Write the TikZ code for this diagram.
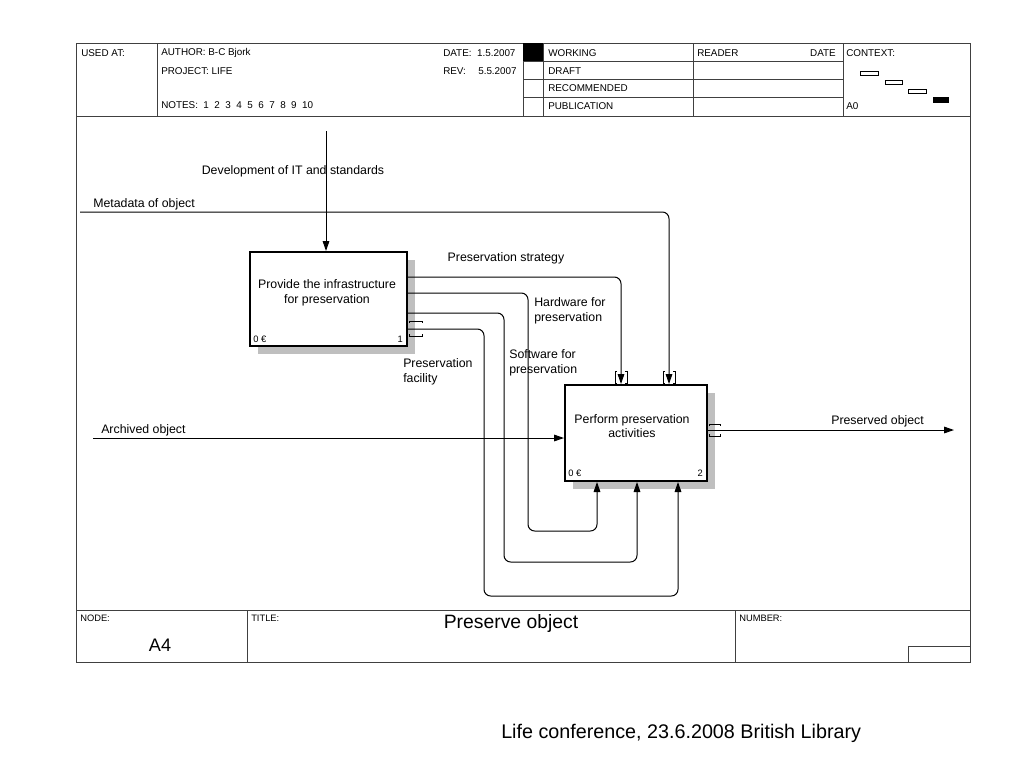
\documentclass[tikz,border=0pt]{standalone}
\usepackage{fontspec}
\setmainfont{Liberation Sans}
\usetikzlibrary{arrows.meta}
\begin{document}
\begin{tikzpicture}[x=0.75pt,y=-0.75pt,
  frame/.style={draw=black!75,line width=0.75pt},
  hdr/.style={font=\fontsize{7.4}{8}\selectfont,anchor=west,inner sep=0pt},
  lbl/.style={font=\fontsize{9.25}{11}\selectfont,inner sep=0pt,align=left},
  box/.style={draw=black,line width=1.5pt,fill=white,inner sep=0pt,align=center},
  btxt/.style={font=\fontsize{9.25}{11}\selectfont,align=center,inner sep=0pt},
  shadow/.style={fill=gray!50,draw=none},
  arr/.style={draw=black,line width=0.75pt,-{Triangle[length=7.5pt,width=5pt]},rounded corners=5pt},
  tun/.style={draw=black,line width=0.6pt},
  small/.style={font=\fontsize{7}{8}\selectfont,inner sep=0pt}]
\useasboundingbox (0,0) rectangle (1024,768);
% ---------- frame ----------
\draw[frame] (76,43) rectangle (970,662);
\draw[frame] (76,116) -- (970,116);
\draw[frame] (76,610) -- (970,610);
\draw[frame] (157,43) -- (157,116);
\draw[frame] (523,43) -- (523,116);
\draw[frame] (543,43) -- (543,116);
\draw[frame] (693,43) -- (693,116);
\draw[frame] (843,43) -- (843,116);
\foreach \yy in {61,79,97} \draw[frame] (523,\yy) -- (843,\yy);
\fill[black] (523,43) rectangle (543,61);
% header texts
\node[hdr] (usedat) at (81,53) {USED AT:};
\node[hdr] (author) at (161,53) {AUTHOR:\ B-C Bjork};
\node[hdr] (project) at (161,71) {PROJECT:\ LIFE};
\node[hdr] (notes) at (161,105) {NOTES:\ \ 1\ \ 2\ \ 3\ \ 4\ \ 5\ \ 6\ \ 7\ \ 8\ \ 9\ \ 10};
\node[hdr] (date) at (443,53) {DATE:\ \ 1.5.2007};
\node[hdr] (rev) at (443,71) {REV:};
\node[hdr] (revd) at (478,71) {5.5.2007};
\node[hdr] (working) at (548,53) {WORKING};
\node[hdr] (draft) at (548,71) {DRAFT};
\node[hdr] (recom) at (548,88) {RECOMMENDED};
\node[hdr] (publ) at (548,106) {PUBLICATION};
\node[hdr] (reader) at (697,53) {READER};
\node[hdr,anchor=east] (rdate) at (836,53) {DATE};
\node[hdr] (context) at (846,53) {CONTEXT:};
\node[hdr] (a0) at (846,106) {A0};
\draw[line width=0.6pt] (860,71) rectangle (878,75);
\draw[line width=0.6pt] (885,80) rectangle (902,84);
\draw[line width=0.6pt] (908,89) rectangle (926,93);
\fill[black] (933,97) rectangle (949,103);
% ---------- footer ----------
\draw[frame] (247,610) -- (247,662);
\draw[frame] (735,610) -- (735,662);
\draw[frame] (908,662) -- (908,646) -- (970,646);
\node[small,anchor=west] (nodelbl) at (80,618) {NODE:};
\node[small,anchor=west] (titlelbl) at (251,618) {TITLE:};
\node[small,anchor=west] (numlbl) at (739,618) {NUMBER:};
\node[font=\fontsize{14.5}{16}\selectfont,inner sep=0pt] (title) at (511,623) {Preserve object};
\node[font=\fontsize{13.6}{15}\selectfont,inner sep=0pt] (a4) at (160,645) {A4};
\node[font=\fontsize{14.8}{17}\selectfont,inner sep=0pt,anchor=west] (conf) at (501,733) {Life conference, 23.6.2008 British Library};
% ---------- boxes ----------
\fill[shadow] (258,260) rectangle (415,354);
\node[box,minimum width=117.75pt,minimum height=70.5pt] (b1) at (328.5,299) {};
\node[btxt] (b1t) at (327,293) {Provide the infrastructure\\for preservation};
\node[small,anchor=west] (b1c) at (253,339) {0 €};
\node[small,anchor=east] (b1n) at (403,339) {1};
\fill[shadow] (573,393) rectangle (715,489);
\node[box,minimum width=106.5pt,minimum height=72pt] (b2) at (636,433) {};
\node[btxt] (b2t) at (632,426) {Perform preservation\\activities};
\node[small,anchor=west] (b2c) at (568,473) {0 €};
\node[small,anchor=east] (b2n) at (703,473) {2};
% ---------- free ends ----------
\coordinate (devstart) at (326,131);
\coordinate (metastart) at (80,212);
\coordinate (archstart) at (93,438);
\coordinate (presend) at (954,430);
% ---------- arrows ----------
\draw[arr] (devstart) -- (devstart |- b1.north);
\draw[arr] (metastart) -- (669,212) -- (669,212 |- b2.north);
\draw[arr] (b1.east |- 0,277) -- (621,277) -- (621,0 |- b2.north);
\draw[arr] (b1.east |- 0,293) -- (528,293) -- (528,531) -- (597,531) -- (597,0 |- b2.south);
\draw[arr] (b1.east |- 0,313) -- (504,313) -- (504,562) -- (637,562) -- (637,0 |- b2.south);
\draw[arr] (b1.east |- 0,329) -- (484,329) -- (484,596) -- (678,596) -- (678,0 |- b2.south);
\draw[arr] (archstart) -- (archstart -| b2.west);
\draw[arr] (b2.east |- 0,430) -- (presend);
% tunnel brackets
\foreach \xx in {621,669}{
  \draw[tun] (\xx-4,371) -- (\xx-6,371) -- (\xx-6,383) -- (\xx-4,383);
  \draw[tun] (\xx+4,371) -- (\xx+6,371) -- (\xx+6,383) -- (\xx+4,383);
}
\draw[tun] (709,426) -- (709,424) -- (720,424) -- (720,426);
\draw[tun] (709,434) -- (709,436) -- (720,436) -- (720,434);
\draw[tun] (409,323) -- (409,321) -- (422,321) -- (422,323);
\draw[tun] (409,334) -- (409,336) -- (422,336) -- (422,334);
% ---------- labels ----------
\node[lbl] (ldev) at (293,171) {Development of IT and standards};
\node[lbl,anchor=west] (lmeta) at (93,204) {Metadata of object};
\node[lbl] (lstrat) at (506,258) {Preservation strategy};
\node[lbl,anchor=west] (lhw) at (534,311) {Hardware for\\preservation};
\node[lbl,anchor=west] (lsw) at (509,363) {Software for\\preservation};
\node[lbl,anchor=west] (lfac) at (403,372) {Preservation\\facility};
\node[lbl,anchor=west] (larch) at (101,430) {Archived object};
\node[lbl,anchor=west] (lpres) at (831,421) {Preserved object};
\end{tikzpicture}
\end{document}
